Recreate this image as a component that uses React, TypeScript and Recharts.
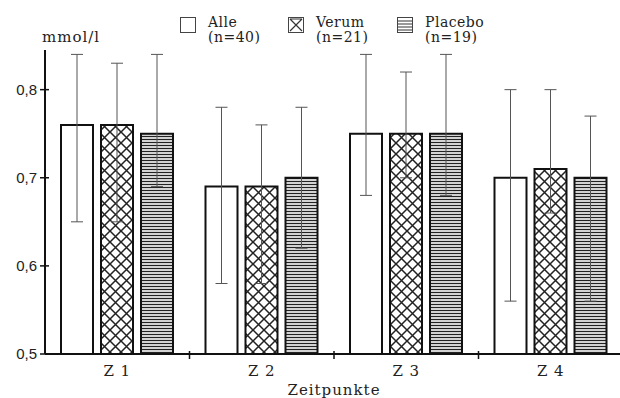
import React from 'react';
import { BarChart, Bar, XAxis, YAxis, ErrorBar } from 'recharts';

// time points
const categories = ['Z 1', 'Z 2', 'Z 3', 'Z 4'];

// means (mmol/l)
const alleMean = [0.76, 0.69, 0.75, 0.70];
const verumMean = [0.76, 0.69, 0.75, 0.71];
const placeboMean = [0.75, 0.70, 0.75, 0.70];

// error bar ends
const alleLow = [0.65, 0.58, 0.68, 0.56];
const alleHigh = [0.84, 0.78, 0.84, 0.80];
const verumLow = [0.65, 0.58, 0.70, 0.66];
const verumHigh = [0.83, 0.76, 0.82, 0.80];
const placeboLow = [0.69, 0.62, 0.68, 0.56];
const placeboHigh = [0.84, 0.78, 0.84, 0.77];

const yTicks = [0.5, 0.6, 0.7, 0.8];

const legendItems = [
    { name: 'Alle', n: '(n=40)', icon: 'plain' },
    { name: 'Verum', n: '(n=21)', icon: 'cross' },
    { name: 'Placebo', n: '(n=19)', icon: 'lines' },
];

const data = categories.map((name, i) => ({
    name,
    alle: alleMean[i],
    alleErr: [alleMean[i] - alleLow[i], alleHigh[i] - alleMean[i]],
    verum: verumMean[i],
    verumErr: [verumMean[i] - verumLow[i], verumHigh[i] - verumMean[i]],
    placebo: placeboMean[i],
    placeboErr: [placeboMean[i] - placeboLow[i], placeboHigh[i] - placeboMean[i]],
}));

const SERIF = '"DejaVu Serif", serif';
const SANS = '"Liberation Sans", Arial, sans-serif';
const INK = '#111';
const BAND = 144.5;

const YTick = (props: any) => {
    const { x, y, payload } = props;
    return (
        <g>
            <line x1={x - 5} y1={y} x2={x + 4} y2={y} stroke={INK} strokeWidth={1.5} />
            <text x={x - 8} y={y + 5} textAnchor="end" fontFamily={SANS} fontSize={15} fill="#222">
                {String(payload.value.toFixed(1)).replace('.', ',')}
            </text>
        </g>
    );
};

const XTick = (props: any) => {
    const { x, y, payload, index } = props;
    return (
        <g>
            {index < categories.length - 1 && (
                <line x1={x + BAND / 2} y1={y - 3} x2={x + BAND / 2} y2={y + 5} stroke={INK} strokeWidth={1.5} />
            )}
            <text x={x} y={y + 22} textAnchor="middle" fontFamily={SERIF} fontSize={15} fill="#222" letterSpacing={1}>
                {payload.value}
            </text>
        </g>
    );
};

const LegendIcon = ({ kind }: { kind: string }) => (
    <svg width={16} height={16} style={{ display: 'block' }}>
        <rect x={0.5} y={0.5} width={15} height={15} fill="white" stroke="#444" strokeWidth={1} />
        {kind === 'cross' && <path d="M2,2 L14,14 M14,2 L2,14 M2,2 L14,2" stroke="#333" strokeWidth={1.2} fill="none" />}
        {kind === 'lines' && <path d="M1,4 L15,4 M1,7 L15,7 M1,10 L15,10 M1,13 L15,13" stroke="#333" strokeWidth={1.2} />}
    </svg>
);

const legendLeft = [180, 288, 397];

export default function App() {
    return (
        <div style={{ position: 'fixed', left: 0, top: 0, width: 620, height: 398, overflow: 'hidden', background: 'white' }}>
            <svg width={0} height={0} style={{ position: 'absolute' }}>
                <defs>
                    <pattern id="crossHatch" patternUnits="userSpaceOnUse" width="11" height="11">
                        <rect width="11" height="11" fill="white" />
                        <path d="M0,0 L11,11 M11,0 L0,11" stroke="#222" strokeWidth="1.5" />
                    </pattern>
                    <pattern id="hLines" patternUnits="userSpaceOnUse" width="6" height="3">
                        <rect width="6" height="3" fill="white" />
                        <line x1="0" y1="1.5" x2="6" y2="1.5" stroke="#222" strokeWidth="1.4" />
                    </pattern>
                </defs>
            </svg>
            {legendItems.map((item, i) => (
                <div key={item.name} style={{ position: 'absolute', left: legendLeft[i], top: 17, display: 'flex', alignItems: 'flex-start' }}>
                    <LegendIcon kind={item.icon} />
                    <div style={{ marginLeft: 12, marginTop: -2, fontFamily: SERIF, fontSize: 14, lineHeight: '15px', color: '#222', letterSpacing: 0.5 }}>
                        <div>{item.name}</div>
                        <div>{item.n}</div>
                    </div>
                </div>
            ))}
            <BarChart
                width={623}
                height={398}
                data={data}
                margin={{ top: 50, right: 0, bottom: 0, left: 0 }}
                barCategoryGap={16}
                barGap={8}
            >
                <XAxis
                    dataKey="name"
                    height={44}
                    axisLine={{ stroke: INK, strokeWidth: 2 }}
                    tickLine={false}
                    tickSize={0}
                    tickMargin={0}
                    tick={<XTick />}
                    interval={0}
                    label={{
                        content: (p: any) => (
                            <text x={p.viewBox.x + p.viewBox.width / 2} y={p.viewBox.y + 41} textAnchor="middle" fontFamily={SERIF} fontSize={15} fill="#222" letterSpacing={1}>
                                Zeitpunkte
                            </text>
                        ),
                    }}
                />
                <YAxis
                    type="number"
                    domain={[0.5, 0.845]}
                    ticks={yTicks}
                    allowDataOverflow
                    width={45}
                    axisLine={{ stroke: INK, strokeWidth: 2 }}
                    tickLine={false}
                    tickSize={0}
                    tickMargin={0}
                    tick={<YTick />}
                    label={{
                        content: (p: any) => (
                            <text x={p.viewBox.x + p.viewBox.width - 3} y={p.viewBox.y - 8} fontFamily={SERIF} fontSize={15} fill="#222" letterSpacing={1}>
                                mmol/l
                            </text>
                        ),
                    }}
                />
                <Bar dataKey="alle" fill="white" stroke={INK} strokeWidth={2} isAnimationActive={false}>
                    <ErrorBar dataKey="alleErr" width={6} stroke="#555" strokeWidth={1} />
                </Bar>
                <Bar dataKey="verum" fill="url(#crossHatch)" stroke={INK} strokeWidth={2} isAnimationActive={false}>
                    <ErrorBar dataKey="verumErr" width={6} stroke="#555" strokeWidth={1} />
                </Bar>
                <Bar dataKey="placebo" fill="url(#hLines)" stroke={INK} strokeWidth={2} isAnimationActive={false}>
                    <ErrorBar dataKey="placeboErr" width={6} stroke="#555" strokeWidth={1} />
                </Bar>
            </BarChart>
        </div>
    );
}
